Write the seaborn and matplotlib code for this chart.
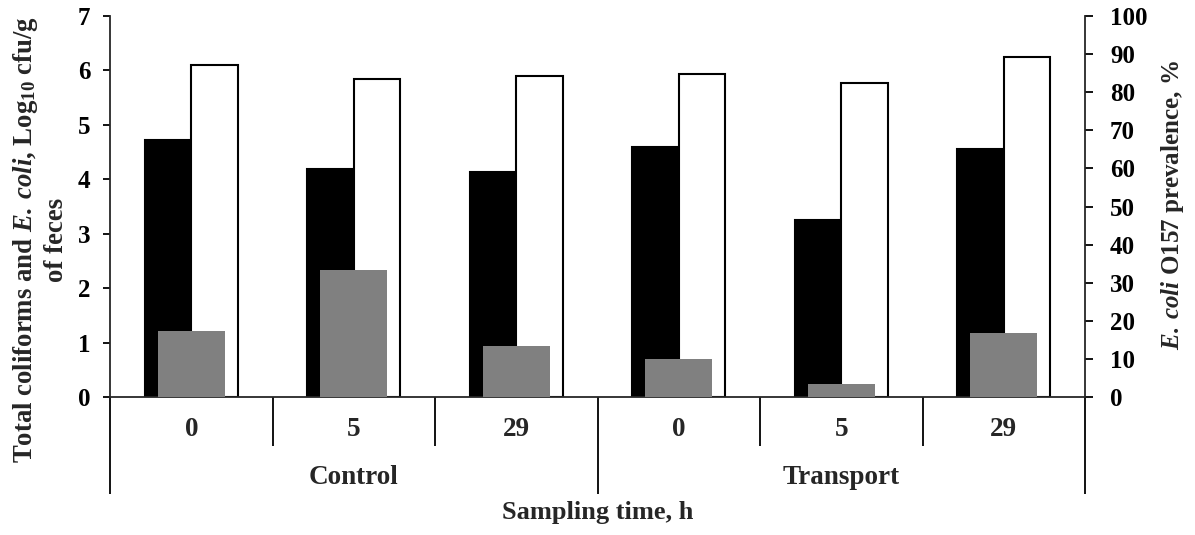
import numpy as np
import pandas as pd
import matplotlib
matplotlib.use("Agg")
import matplotlib.pyplot as plt
import matplotlib.transforms as mtransforms
import seaborn as sns

# Sampling design: two treatments, three sampling times each
groups = ["Control", "Transport"]
times = ["0", "5", "29"]

# Log10 cfu/g of feces
total_coliforms = [4.72, 4.19, 4.14, 4.59, 3.26, 4.55]
e_coli = [6.10, 5.84, 5.89, 5.93, 5.77, 6.25]
# E. coli O157 prevalence, %
o157_prevalence = [17.4, 33.3, 13.3, 10.0, 3.3, 16.7]

samples = [f"{g} {t}" for g in groups for t in times]

counts = pd.DataFrame({
    "sample": samples * 2,
    "measure": ["Total coliforms"] * len(samples) + ["E. coli"] * len(samples),
    "log_cfu": total_coliforms + e_coli,
})
prev = pd.DataFrame({"sample": samples, "prevalence": o157_prevalence})

sns.set_theme(style="ticks")
plt.rcParams["font.family"] = ["Liberation Serif", "DejaVu Serif"]
plt.rcParams["font.weight"] = "bold"
plt.rcParams["mathtext.fontset"] = "custom"
plt.rcParams["mathtext.rm"] = "Liberation Serif:bold"
plt.rcParams["mathtext.bf"] = "Liberation Serif:bold"
plt.rcParams["mathtext.it"] = "Liberation Serif:bold:italic"
plt.rcParams["axes.linewidth"] = 1.3

W, H = 1195, 535
fig = plt.figure(figsize=(W / 100, H / 100), dpi=100)
ax = fig.add_axes([110 / W, 1 - 397 / H, 975 / W, 381 / H])

sns.barplot(data=counts, x="sample", y="log_cfu", hue="measure",
            order=samples, hue_order=["Total coliforms", "E. coli"],
            palette={"Total coliforms": "black", "E. coli": "white"},
            edgecolor="black", linewidth=1.5, width=0.57, gap=0,
            saturation=1, errorbar=None, legend=False, ax=ax)

ax2 = ax.twinx()
sns.barplot(data=prev, x="sample", y="prevalence", order=samples,
            color="#808080", width=0.41, saturation=1, errorbar=None,
            linewidth=0, ax=ax2)

ax.set_xlim(-0.5, len(samples) - 0.5)
ax.set_ylim(0, 7)
ax2.set_ylim(0, 100)
ax.set_yticks(range(0, 8))
ax2.set_yticks(range(0, 101, 10))

for a in (ax, ax2):
    a.set_xlabel("")
    a.set_ylabel("")
    a.tick_params(axis="x", bottom=False, labelbottom=False)
    a.spines["top"].set_visible(False)
ax.spines["right"].set_visible(False)
ax2.spines["left"].set_visible(False)
ax2.spines["bottom"].set_visible(False)

ax.tick_params(axis="y", direction="out", length=5, width=1.3, pad=9,
               labelsize=18, colors="black")
ax2.tick_params(axis="y", direction="out", length=6, width=1.3, pad=12,
                labelsize=18, colors="black")
for lab in ax.get_yticklabels() + ax2.get_yticklabels():
    lab.set_fontweight("bold")

# Hierarchical category axis: sampling times, then treatment groups
trans = mtransforms.blended_transform_factory(ax.transData, ax.transAxes)
px = 1 / 381
for i, t in enumerate(times * len(groups)):
    ax.text(i, -33 * px, t, transform=trans, ha="center", va="center",
            fontsize=19.5, fontweight="bold")
for gi, g in enumerate(groups):
    centre = gi * len(times) + (len(times) - 1) / 2
    ax.text(centre, -81 * px, g, transform=trans, ha="center", va="center",
            fontsize=19.5, fontweight="bold")
for k in range(len(samples) + 1):
    edge = k - 0.5
    depth = -97 * px if k % len(times) == 0 else -49 * px
    ax.plot([edge, edge], [0, depth], transform=trans, color="black",
            lw=1.3, clip_on=False, solid_capstyle="butt")

ax.text(0.5, -116 * px, "Sampling time, h", transform=ax.transAxes,
        ha="center", va="center", fontsize=19, fontweight="bold")

fig.text(40 / W, 1 - 240 / H,
         "Total coliforms and $\\mathit{E.\\:coli}$, Log$_{10}$ cfu/g\nof feces",
         rotation=90, ha="center", va="center", multialignment="center",
         fontsize=19.3, fontweight="bold", linespacing=1.2)
fig.text(1172 / W, 1 - 205 / H, "$\\mathit{E.\\:coli}$ O157 prevalence, %",
         rotation=90, ha="center", va="center", fontsize=18,
         fontweight="bold")

fig.savefig("out.png", dpi=100)
